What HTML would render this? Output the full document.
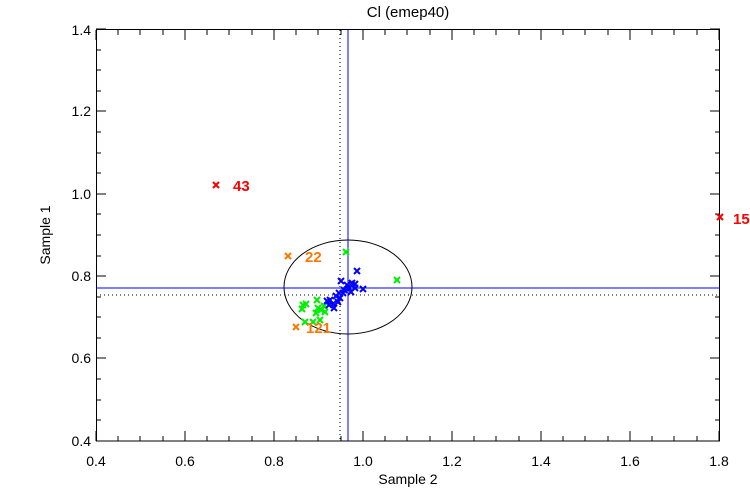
<!DOCTYPE html>
<html><head><meta charset="utf-8"><style>
body{margin:0;background:#fff}
svg{display:block}
text{font-family:"Liberation Sans",sans-serif}
</style></head><body>
<svg width="750" height="500" viewBox="0 0 750 500">
<defs>
<g id="xm"><path d="M-3,-3L3,3M-3,3L3,-3" stroke-width="2"/></g>
</defs>
<rect width="750" height="500" fill="#fff"/>
<text x="408" y="17" text-anchor="middle" font-size="15">Cl (emep40)</text>
<g stroke="#000" stroke-width="1" fill="none">
<rect x="96.5" y="29.5" width="623" height="411.5"/>
<path d="M96,441v-10M185,441v-10M274,441v-10M363,441v-10M452,441v-10M541,441v-10M630,441v-10M719,441v-10
M96,30v10M185,30v10M274,30v10M363,30v10M452,30v10M541,30v10M630,30v10M719,30v10
M118,441v-5M140,441v-5M163,441v-5M207,441v-5M229,441v-5M252,441v-5M296,441v-5M318,441v-5M341,441v-5M385,441v-5M407,441v-5M430,441v-5M474,441v-5M496,441v-5M519,441v-5M563,441v-5M585,441v-5M608,441v-5M652,441v-5M674,441v-5M697,441v-5
M118,30v5M140,30v5M163,30v5M207,30v5M229,30v5M252,30v5M296,30v5M318,30v5M341,30v5M385,30v5M407,30v5M430,30v5M474,30v5M496,30v5M519,30v5M563,30v5M585,30v5M608,30v5M652,30v5M674,30v5M697,30v5
M96,441h10M96,358h10M96,276h10M96,194h10M96,111h10M96,29h10
M720,441h-10M720,358h-10M720,276h-10M720,194h-10M720,111h-10M720,29h-10
M96,420h5M96,400h5M96,379h5M96,338h5M96,317h5M96,297h5M96,256h5M96,235h5M96,214h5M96,173h5M96,153h5M96,132h5M96,91h5M96,70h5M96,50h5
M720,420h-5M720,400h-5M720,379h-5M720,338h-5M720,317h-5M720,297h-5M720,256h-5M720,235h-5M720,214h-5M720,173h-5M720,153h-5M720,132h-5M720,91h-5M720,70h-5M720,50h-5"/>
</g>
<g font-size="14" fill="#000">
<text x="96" y="466" text-anchor="middle">0.4</text>
<text x="185" y="466" text-anchor="middle">0.6</text>
<text x="274" y="466" text-anchor="middle">0.8</text>
<text x="363" y="466" text-anchor="middle">1.0</text>
<text x="452" y="466" text-anchor="middle">1.2</text>
<text x="541" y="466" text-anchor="middle">1.4</text>
<text x="630" y="466" text-anchor="middle">1.6</text>
<text x="719" y="466" text-anchor="middle">1.8</text>
<g text-anchor="end">
<text x="91" y="446">0.4</text><text x="91" y="363">0.6</text><text x="91" y="281">0.8</text>
<text x="91" y="199">1.0</text><text x="91" y="116">1.2</text><text x="91" y="35">1.4</text>
</g>
<text x="408" y="484" text-anchor="middle">Sample 2</text>
<text transform="translate(50,235) rotate(-90)" text-anchor="middle">Sample 1</text>
</g>
<ellipse cx="348" cy="287" rx="64" ry="47" fill="none" stroke="#000" stroke-width="1"/>
<path d="M340,30V441M96,295H720" stroke="#000" stroke-dasharray="1,3" fill="none"/>
<path d="M348,30V441M96,288H720" stroke="#0000ff" stroke-width="1" fill="none"/>
<g stroke="#00ee00">
<use href="#xm" x="346" y="252"/><use href="#xm" x="397" y="280"/>
<use href="#xm" x="303" y="305"/><use href="#xm" x="306" y="304"/><use href="#xm" x="302" y="309"/>
<use href="#xm" x="317" y="300"/><use href="#xm" x="318" y="308"/><use href="#xm" x="316" y="313"/>
<use href="#xm" x="321" y="310"/><use href="#xm" x="324" y="306"/><use href="#xm" x="325" y="312"/>
<use href="#xm" x="305" y="322"/><use href="#xm" x="313" y="322"/><use href="#xm" x="320" y="320"/>
</g>
<g stroke="#0000ff">
<use href="#xm" x="357" y="271"/><use href="#xm" x="341" y="281"/><use href="#xm" x="347" y="285"/>
<use href="#xm" x="352" y="283"/><use href="#xm" x="355" y="288"/><use href="#xm" x="344" y="290"/>
<use href="#xm" x="339" y="293"/><use href="#xm" x="336" y="296"/><use href="#xm" x="340" y="298"/>
<use href="#xm" x="363" y="289"/><use href="#xm" x="355" y="284"/><use href="#xm" x="349" y="288"/>
<use href="#xm" x="327" y="301"/><use href="#xm" x="329" y="305"/><use href="#xm" x="333" y="304"/>
<use href="#xm" x="334" y="308"/><use href="#xm" x="330" y="300"/><use href="#xm" x="338" y="302"/>
<use href="#xm" x="343" y="293"/><use href="#xm" x="351" y="292"/>
</g>
<g stroke="#ff7700">
<use href="#xm" x="288" y="256"/><use href="#xm" x="296" y="327"/>
</g>
<g stroke="#ff0000">
<use href="#xm" x="216" y="185"/><use href="#xm" x="720" y="217"/>
</g>
<g font-size="15" font-weight="bold">
<text x="233" y="191" fill="#ff0000">43</text>
<text x="733" y="224" fill="#ff0000">15</text>
<text x="305" y="262" fill="#ff7700">22</text>
<text x="306" y="333" fill="#ff7700">121</text>
</g>
</svg>
</body></html>
